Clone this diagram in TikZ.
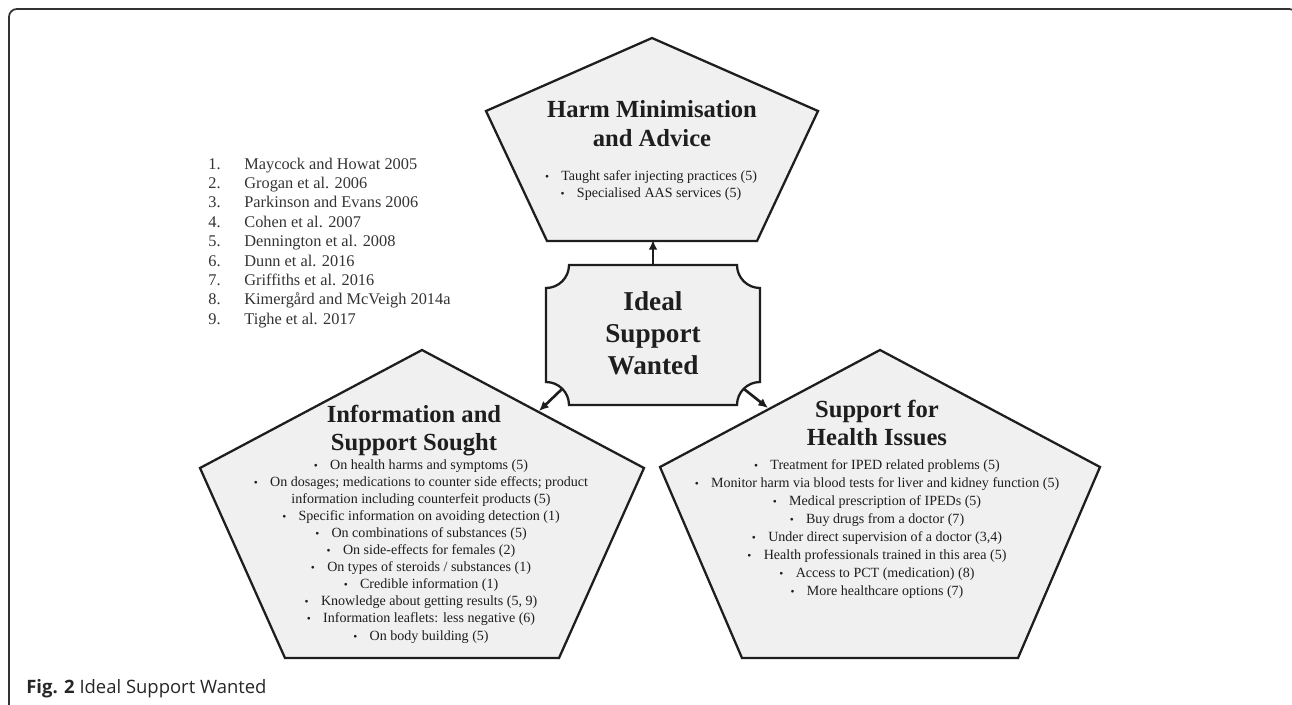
\documentclass[tikz,border=0pt]{standalone}
\usepackage{fontspec}
\setmainfont{Liberation Serif}
\newfontfamily\capfont{Open Sans}
\usetikzlibrary{arrows,arrows.meta,calc}
\definecolor{PaleGrey}{HTML}{F0F0F0}
\definecolor{InkBlack}{HTML}{1E1E1E}
\definecolor{FrameGrey}{HTML}{333333}
\tikzset{
    penta/.style = {draw=InkBlack, fill=PaleGrey, line width=1.3pt},
    head/.style = {anchor=base, inner sep=0pt, text=InkBlack,
        font=\fontsize{14}{16}\selectfont\bfseries},
    centretxt/.style = {anchor=base, inner sep=0pt, text=InkBlack,
        font=\fontsize{15.5}{18}\selectfont\bfseries},
    itemtxt/.style = {anchor=base, inner sep=0pt, text=InkBlack,
        font=\fontsize{8}{9.5}\selectfont},
    reftxt/.style = {anchor=base west, inner sep=0pt, text=black!80,
        font=\fontsize{9.3}{11}\selectfont},
    arrow/.style = {draw=InkBlack, -{Latex[length=5.5pt,width=5pt]}, line width=1.5pt}
}
\newcommand{\itmbul}{{\fontsize{6.5}{6.5}\selectfont\textbullet}\hspace{7pt}}

\begin{document}
\begin{tikzpicture}[x=0.02cm,y=-0.02cm]
    \useasboundingbox (0,0) rectangle (1292,704);
    % outer frame
    \draw[FrameGrey,line width=1pt,rounded corners=4.5pt] (9,730) -- (9,9) -- (1297,9) -- (1297,730);
    % the three pentagons
    \draw[penta] (652,38) -- (818,111) -- (757,241) -- (547,241) -- (486,111) -- cycle;
    \draw[penta] (422,350) -- (644,468) -- (559,658) -- (285,658) -- (200,468) -- cycle;
    \draw[penta] (880,350) -- (1100,467) -- (1018,658) -- (742,658) -- (660,467) -- cycle;
    % centre box with hollow corners
    \draw[penta] (569,265) -- (737,265) arc[start angle=180,end angle=270,radius=0.46cm]
        -- (760,382) arc[start angle=90,end angle=180,radius=0.46cm]
        -- (569,405) arc[start angle=0,end angle=90,radius=0.46cm]
        -- (546,288) arc[start angle=270,end angle=360,radius=0.46cm] -- cycle;
    \node[centretxt] (idealA) at (653,310) {Ideal};
    \node[centretxt] (idealB) at (653,342) {Support};
    \node[centretxt] (idealC) at (653,374) {Wanted};
    % arrows
    \coordinate (boxtop) at (653,265);
    \coordinate (harmbot) at (653,240);
    \coordinate (boxsw) at (562,389);
    \coordinate (infoedge) at (539,411);
    \coordinate (boxse) at (744,389);
    \coordinate (healthedge) at (768,408);
    \draw[arrow] (boxtop) -- (harmbot);
    \draw[arrow] (boxsw) -- (infoedge);
    \draw[arrow] (boxse) -- (healthedge);
    % harm minimisation
    \node[head] (harmA) at (652,117) {Harm Minimisation};
    \node[head] (harmB) at (652,146) {and Advice};
    \node[itemtxt] (harm1) at (651,180) {\itmbul Taught safer injecting practices (5)};
    \node[itemtxt] (harm2) at (651,197) {\itmbul Specialised AAS services (5)};
    % information and support
    \node[head] (infoA) at (414,422) {Information and};
    \node[head] (infoB) at (414,450) {Support Sought};
    \foreach \t [count=\i] in {\itmbul On health harms and symptoms (5),
        \itmbul On dosages; medications to counter side effects; product,
        information including counterfeit products (5),
        \itmbul Specific information on avoiding detection (1),
        \itmbul On combinations of substances (5),
        \itmbul On side-effects for females (2),
        \itmbul On types of steroids / substances (1),
        \itmbul Credible information (1),
        {\itmbul Knowledge about getting results (5, 9)},
        \itmbul Information leaflets: less negative (6),
        \itmbul On body building (5)}
        \node[itemtxt] (info\i) at (421,{469+17.1*(\i-1)}) {\t};
    % support for health issues
    \node[head] (hlthA) at (877,417) {Support for};
    \node[head] (hlthB) at (877,445) {Health Issues};
    \foreach \t [count=\i] in {\itmbul Treatment for IPED related problems (5),
        \itmbul Monitor harm via blood tests for liver and kidney function (5),
        \itmbul Medical prescription of IPEDs (5),
        \itmbul Buy drugs from a doctor (7),
        {\itmbul Under direct supervision of a doctor (3,4)},
        \itmbul Health professionals trained in this area (5),
        \itmbul Access to PCT (medication) (8),
        \itmbul More healthcare options (7)}
        \node[itemtxt] (hlth\i) at (877,{469+18*(\i-1)}) {\t};
    % reference list
    \foreach \r [count=\i] in {Maycock and Howat 2005, Grogan et al. 2006,
        Parkinson and Evans 2006, Cohen et al. 2007, Dennington et al. 2008,
        Dunn et al. 2016, Griffiths et al. 2016, Kimergård and McVeigh 2014a,
        Tighe et al. 2017}{
        \node[reftxt] (num\i) at (208,{169+19.4*(\i-1)}) {\i.};
        \node[reftxt] (ref\i) at (244,{169+19.4*(\i-1)}) {\r};
    }
    % caption
    \node[anchor=base west, inner sep=0pt, text=black!85,
        font=\capfont\fontsize{10.5}{12}\selectfont] (caption) at (26,693)
        {\textbf{Fig. 2} Ideal Support Wanted};
\end{tikzpicture}
\end{document}
